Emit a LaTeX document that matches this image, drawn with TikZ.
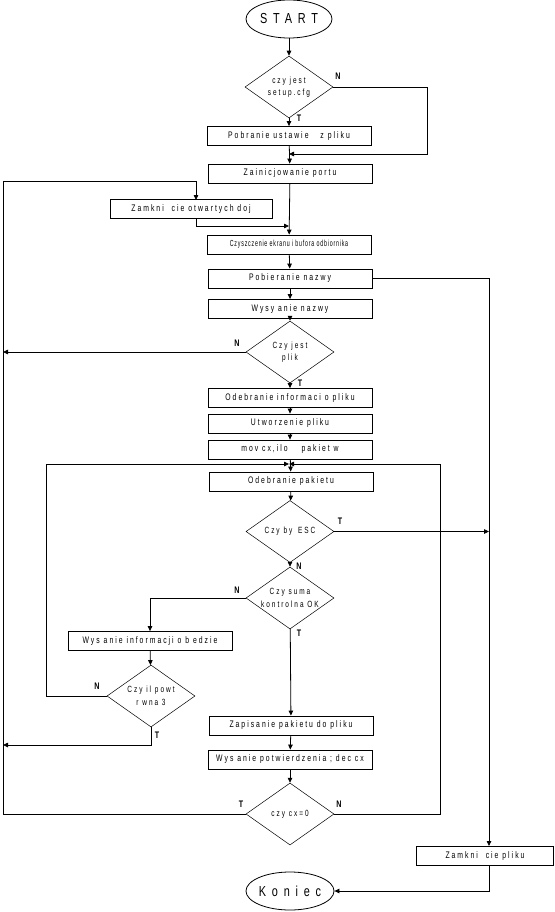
\documentclass[tikz,border=0pt]{standalone}
\usepackage{fontspec}
\setmainfont{Liberation Sans}
\newfontfamily\bxfam[FakeStretch=0.72,LetterSpace=21]{Liberation Sans}
\newfontfamily\smfam[FakeStretch=0.6,LetterSpace=9]{Liberation Sans}
\newfontfamily\dcfam[FakeStretch=0.72,LetterSpace=22]{Liberation Sans}
\newfontfamily\tmfam[FakeStretch=0.75,LetterSpace=40]{Liberation Sans}
\newfontfamily\lbfam[FakeStretch=0.75]{Liberation Sans Bold}
\newcommand\mybxf{\bxfam\fontsize{9.5}{10}\selectfont}
\newcommand\mysmf{\smfam\fontsize{8.8}{9}\selectfont}
\newcommand\mydcf{\dcfam\fontsize{9}{12.5}\selectfont}
\newcommand\mytmf{\tmfam\fontsize{14.5}{16}\selectfont}
\newcommand\mylbf{\lbfam\fontsize{9.5}{10}\selectfont}
\usetikzlibrary{shapes.geometric,arrows.meta}
\tikzset{
 box/.style={draw, line width=0.8pt, rectangle, minimum width=164pt, minimum height=19pt, inner sep=0pt, font=\mybxf},
 dec/.style={draw, line width=0.5pt, diamond, aspect=1.45, minimum width=88pt, minimum height=62pt, inner sep=0pt, align=center, font=\mydcf},
 term/.style={draw, line width=0.8pt, ellipse, minimum width=86pt, minimum height=38pt, inner sep=0pt, font=\mytmf},
 arr/.style={line width=0.8pt, -{Triangle[length=5pt,width=4.5pt]}},
 ln/.style={line width=0.8pt},
 lbl/.style={font=\mylbf, inner sep=0pt},
}
\begin{document}
\begin{tikzpicture}[x=1pt,y=-1pt]
\useasboundingbox[fill=white] (0,0) rectangle (554,912);
% nodes
\node[term] (start) at (289,19) {START};
\node[dec] (d1) at (289,87) {czy jest\\setup.cfg};
\node[box] (pobr) at (289,136) {Pobranie ustawie\hspace{8pt} z pliku};
\node[box] (zain) at (290,173.5) {Zainicjowanie portu};
\node[box, minimum width=162pt] (zamk) at (191,209) {Zamkni\hspace{4pt} cie otwartych doj};
\node[box, font=\mysmf] (czy) at (289,244.5) {Czyszczenie ekranu i bufora odbiornika};
\node[box] (pobn) at (290,278.5) {Pobieranie nazwy};
\node[box] (wysn) at (290,309) {Wysy anie nazwy};
\node[dec] (d2) at (290,352) {Czy jest\\plik};
\node[box] (odinf) at (290,398) {Odebranie informaci o pliku};
\node[box] (utw) at (290,423.5) {Utworzenie pliku};
\node[box] (mov) at (290,449.5) {mov cx,ilo\hspace{10pt} pakiet w};
\node[box] (odp) at (291,481.5) {Odebranie pakietu};
\node[dec] (d4) at (290,531.5) {Czy by\hspace{2pt} ESC};
\node[dec] (d5) at (290,598) {Czy suma\\kontrolna OK};
\node[box] (wi) at (150,641) {Wys anie informacji o b edzie};
\node[dec] (d6) at (151,696) {Czy il powt\\r wna 3};
\node[box] (zap) at (291,725.5) {Zapisanie pakietu do pliku};
\node[box] (wp) at (290,759.5) {Wys anie potwierdzenia ; dec cx};
\node[dec] (d7) at (290,814) {czy cx=0};
\node[box, minimum width=137pt] (zpl) at (485,856) {Zamkni\hspace{4pt} cie pliku};
\node[term] (kon) at (290,891) {Koniec};
% coordinates
\coordinate (c1) at (427,154);
\coordinate (j1) at (289,154);
\coordinate (L1) at (3,181);
\coordinate (zt) at (196,200);
\coordinate (zb) at (196,218);
\coordinate (j2) at (289,226);
\coordinate (R1) at (489,846);
\coordinate (L2) at (46,464);
\coordinate (R2) at (440,464);
\coordinate (j3) at (289,464);
\coordinate (L3) at (3,745);
% connectors
\draw[arr] (start) -- (d1);
\draw[arr] (d1) -- (pobr);
\draw[arr] (d1.east) -| (c1) -- (j1);
\draw[arr] (pobr) -- (zain);
\draw[arr] (zain) -- (czy);
\draw[arr] (d7.west) -| (L1) -| (zt);
\draw[arr] (zb) |- (j2);
\draw[arr] (czy) -- (pobn);
\draw[arr] (pobn) -- (wysn);
\draw[arr] (pobn.east) -| (R1);
\draw[arr] (wysn) -- (d2);
\draw[arr] (d2.west) -- (d2.west -| L1);
\draw[arr] (d2) -- (odinf);
\draw[arr] (odinf) -- (utw);
\draw[arr] (utw) -- (mov);
\draw[arr] (mov) -- (odp);
\draw[arr] (odp) -- (d4);
\draw[arr] (d4.east) -- (d4.east -| R1);
\draw[arr] (d4) -- (d5);
\draw[arr] (d5.west) -| (wi.north);
\draw[arr] (wi) -- (d6);
\draw[arr] (d6.west) -| (L2) -- (j3);
\draw[arr] (d6.south) |- (L3);
\draw[arr] (d5) -- (zap);
\draw[arr] (zap) -- (wp);
\draw[arr] (wp) -- (d7);
\draw[arr] (d7.east) -| (R2) -- (j3);
\draw[arr] (zpl.south -| R1) |- (kon.east);
% labels
\node[lbl] (n1) at (338,76) {N};
\node[lbl] (t1) at (299,118) {T};
\node[lbl] (n2) at (237,343) {N};
\node[lbl] (t2) at (300,383) {T};
\node[lbl] (t4) at (340,521) {T};
\node[lbl] (n4) at (299,566) {N};
\node[lbl] (n5) at (237,590) {N};
\node[lbl] (t5) at (299,633) {T};
\node[lbl] (n6) at (97,686) {N};
\node[lbl] (t6) at (157,735) {T};
\node[lbl] (t7) at (241,804) {T};
\node[lbl] (n7) at (339,804) {N};
\end{tikzpicture}
\end{document}
